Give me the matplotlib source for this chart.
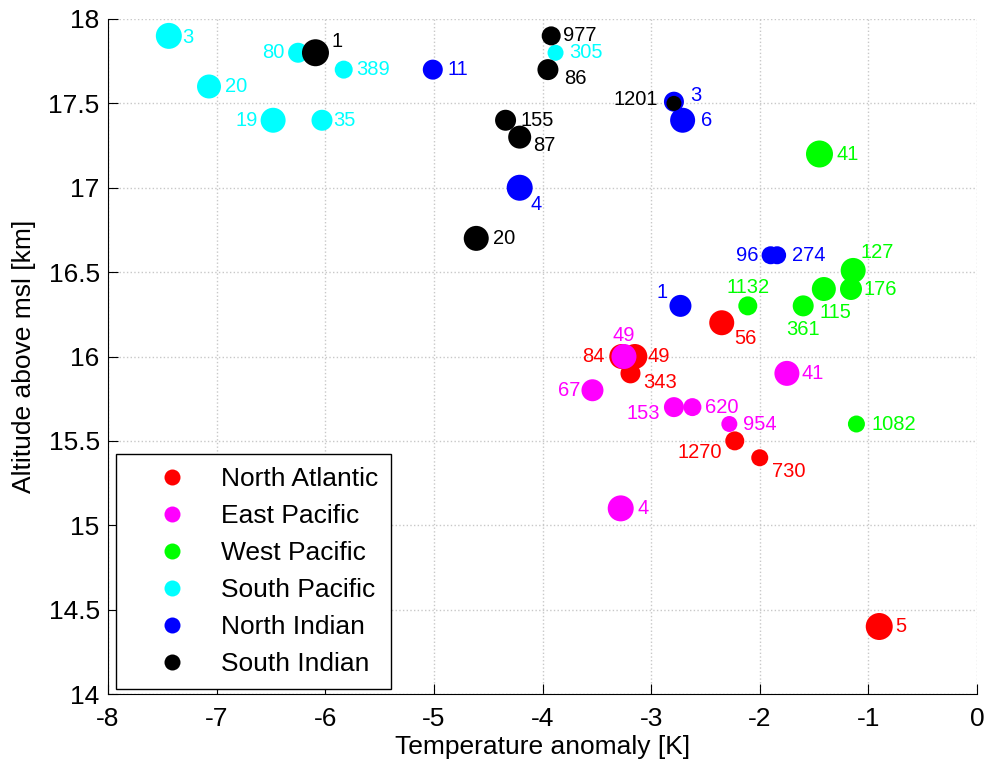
import matplotlib
matplotlib.use("Agg")
import matplotlib.pyplot as plt
from matplotlib.lines import Line2D

plt.rcParams['font.family'] = ['Liberation Sans', 'DejaVu Sans']
plt.rcParams['axes.unicode_minus'] = False

# regions (legend order = drawing order)
regions = ["North Atlantic", "East Pacific", "West Pacific",
           "South Pacific", "North Indian", "South Indian"]
region_colors = ["#ff0000", "#ff00ff", "#00ff00", "#00ffff", "#0000ff", "#000000"]

# North Atlantic
na_x = [-2.35, -3.15, -3.27, -3.19, -2.23, -2.00, -0.90]
na_y = [16.20, 16.00, 16.00, 15.90, 15.50, 15.40, 14.40]
na_n = ["56", "49", "84", "343", "1270", "730", "5"]
na_d = [25, 25, 25, 20, 19, 17, 27]

# East Pacific
ep_x = [-3.25, -1.75, -3.54, -2.79, -2.62, -2.28, -3.28]
ep_y = [16.00, 15.90, 15.80, 15.70, 15.70, 15.60, 15.10]
ep_n = ["49", "41", "67", "153", "620", "954", "4"]
ep_d = [25, 25, 22, 20, 18, 16, 26]

# West Pacific
wp_x = [-1.45, -1.14, -1.16, -1.41, -1.60, -2.11, -1.11]
wp_y = [17.20, 16.51, 16.40, 16.40, 16.30, 16.30, 15.60]
wp_n = ["41", "127", "176", "115", "361", "1132", "1082"]
wp_d = [27, 25, 22, 24, 21, 19, 17]

# South Pacific
sp_x = [-7.44, -6.25, -5.83, -7.07, -6.48, -6.03, -3.88]
sp_y = [17.90, 17.80, 17.70, 17.60, 17.40, 17.40, 17.80]
sp_n = ["3", "80", "389", "20", "19", "35", "305"]
sp_d = [26, 20, 18, 24, 25, 21, 16]

# North Indian
ni_x = [-5.01, -2.79, -2.71, -4.21, -1.90, -1.84, -2.73]
ni_y = [17.70, 17.51, 17.40, 17.00, 16.60, 16.60, 16.30]
ni_n = ["11", "3", "6", "4", "96", "274", "1"]
ni_d = [20, 20, 25, 26, 18, 18, 22]

# South Indian
si_x = [-6.09, -3.92, -3.95, -4.34, -4.21, -4.61, -2.79]
si_y = [17.80, 17.90, 17.70, 17.40, 17.30, 16.70, 17.50]
si_n = ["1", "977", "86", "155", "87", "20", "1201"]
si_d = [27, 19, 21, 21, 23, 25, 15]

groups = [(na_x, na_y, na_n, na_d), (ep_x, ep_y, ep_n, ep_d),
          (wp_x, wp_y, wp_n, wp_d), (sp_x, sp_y, sp_n, sp_d),
          (ni_x, ni_y, ni_n, ni_d), (si_x, si_y, si_n, si_d)]

# label placement: (dx px, dy px down, ha)
label_pos = {
    (0, "56"): (13, 16, "left"), (0, "49"): (13, 0, "left"),
    (0, "84"): (-17, 0, "right"), (0, "343"): (13, 9, "left"),
    (0, "1270"): (-13, 12, "right"), (0, "730"): (12, 14, "left"),
    (0, "5"): (16, 0, "left"),
    (1, "49"): (0, -21, "center"), (1, "41"): (15, 0, "left"),
    (1, "67"): (-12, 0, "right"), (1, "153"): (-14, 6, "right"),
    (1, "620"): (13, 0, "left"), (1, "954"): (14, 0, "left"),
    (1, "4"): (17, 0, "left"),
    (2, "41"): (17, 0, "left"), (2, "127"): (7, -18, "left"),
    (2, "176"): (13, 0, "left"), (2, "115"): (-4, 23, "left"),
    (2, "361"): (0, 24, "center"), (2, "1132"): (0, -18, "center"),
    (2, "1082"): (15, 0, "left"),
    (3, "3"): (13, 2, "left"), (3, "80"): (-14, 0, "right"),
    (3, "389"): (12, 0, "left"), (3, "20"): (16, 0, "left"),
    (3, "19"): (-15, 0, "right"), (3, "35"): (11, 0, "left"),
    (3, "305"): (14, 0, "left"),
    (4, "11"): (15, 0, "left"), (4, "3"): (16, -6, "left"),
    (4, "6"): (18, 0, "left"), (4, "4"): (11, 17, "left"),
    (4, "96"): (-12, 0, "right"), (4, "274"): (15, 0, "left"),
    (4, "1"): (-13, -13, "right"),
    (5, "1"): (16, -11, "left"), (5, "977"): (12, 0, "left"),
    (5, "86"): (16, 9, "left"), (5, "155"): (15, 0, "left"),
    (5, "87"): (13, 8, "left"), (5, "20"): (17, 0, "left"),
    (5, "1201"): (-16, -4, "right"),
}

W, H = 987, 767
fig = plt.figure(figsize=(W / 100, H / 100), dpi=100)
ax = fig.add_axes([108 / W, 1 - 694 / H, (977 - 108) / W, (694 - 19) / H])

px = 0.72  # points per pixel at 100 dpi
for gi, (xs, ys, names, dots) in enumerate(groups):
    col = region_colors[gi]
    ax.scatter(xs, ys, s=[(d * px) ** 2 for d in dots], c=col,
               edgecolors='none', zorder=3)
    for x, y, name in zip(xs, ys, names):
        dx, dy, ha = label_pos[(gi, name)]
        ax.annotate(name, (x, y), xytext=(dx * px, -dy * px),
                    textcoords='offset points', ha=ha, va='center',
                    color=col, fontsize=14.5, zorder=4)

ax.set_xlim(-8, 0)
ax.set_ylim(14, 18)
ax.set_xticks(range(-8, 1))
ax.set_yticks([14, 14.5, 15, 15.5, 16, 16.5, 17, 17.5, 18])
ax.set_yticklabels(["14", "14.5", "15", "15.5", "16", "16.5", "17", "17.5", "18"])
ax.grid(True, color='#c8c8c8', linestyle=':', linewidth=1.0)
ax.set_axisbelow(True)
ax.spines['top'].set_visible(False)
ax.spines['right'].set_visible(False)
ax.tick_params(direction='in', length=7, labelsize=19,
               top=False, right=False)
ax.tick_params(axis='x', pad=9)
ax.tick_params(axis='y', pad=6)
ax.set_xlabel("Temperature anomaly [K]", fontsize=19, labelpad=3)
ax.set_ylabel("Altitude above msl [km]", fontsize=19, labelpad=9)

handles = [Line2D([], [], linestyle='none', marker='o', markersize=16 * px,
                  markerfacecolor=c, markeredgecolor='none') for c in region_colors]
leg = ax.legend(handles, regions, loc='lower left',
                bbox_to_anchor=(8 / 869, 5 / 675), borderaxespad=0,
                fontsize=19, handlelength=3.24, handletextpad=0.24,
                borderpad=0.5, labelspacing=0.49, fancybox=False,
                framealpha=1, edgecolor='black')
leg.get_frame().set_linewidth(1.0)

fig.savefig("out.png", dpi=100)
